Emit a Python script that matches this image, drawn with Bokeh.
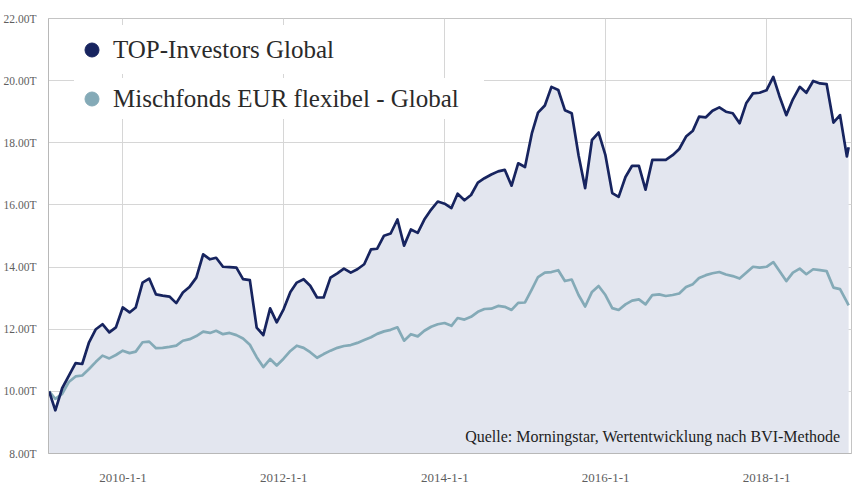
import pandas as pd
from bokeh.plotting import figure
from bokeh.models import Range1d, FixedTicker, Legend, LegendItem, Label, ColumnDataSource
from bokeh.embed import file_html
from bokeh.resources import INLINE

# ---- data ----
SERIES_TOP = "TOP-Investors Global"
SERIES_MIX = "Mischfonds EUR flexibel - Global"

top_values = [
    10.00, 9.39, 10.10, 10.50, 10.91, 10.88, 11.58, 12.00, 12.16, 11.90,
    12.06, 12.70, 12.54, 12.70, 13.50, 13.63, 13.12, 13.08, 13.05, 12.84,
    13.18, 13.37, 13.66, 14.41, 14.25, 14.30, 14.01, 14.00, 13.98, 13.61,
    13.58, 12.05, 11.81, 12.67, 12.22, 12.64, 13.20, 13.50, 13.61, 13.40,
    13.02, 13.02, 13.66, 13.80, 13.95, 13.82, 13.93, 14.09, 14.57, 14.59,
    15.01, 15.08, 15.53, 14.69, 15.21, 15.10, 15.53, 15.85, 16.11, 16.04,
    15.90, 16.36, 16.15, 16.32, 16.72, 16.86, 16.98, 17.08, 17.13, 16.62,
    17.34, 17.22, 18.30, 18.97, 19.20, 19.80, 19.70, 19.05, 18.95, 17.60,
    16.54, 18.09, 18.33, 17.60, 16.38, 16.26, 16.90, 17.26, 17.26, 16.49,
    17.45, 17.45, 17.45, 17.60, 17.80, 18.20, 18.39, 18.84, 18.82, 19.03,
    19.14, 19.00, 18.95, 18.63, 19.27, 19.59, 19.61, 19.69, 20.12, 19.50,
    18.89, 19.40, 19.80, 19.61, 19.99, 19.91, 19.89, 18.65, 18.89, 17.56,
    17.86,
]

mix_values = [
    10.00, 9.76, 9.92, 10.30, 10.48, 10.51, 10.72, 10.95, 11.15, 11.06,
    11.17, 11.31, 11.23, 11.28, 11.58, 11.60, 11.39, 11.40, 11.43, 11.47,
    11.63, 11.68, 11.78, 11.92, 11.88, 11.95, 11.84, 11.88, 11.81, 11.70,
    11.50, 11.10, 10.78, 11.04, 10.83, 11.05, 11.30, 11.47, 11.40, 11.26,
    11.08, 11.20, 11.31, 11.40, 11.46, 11.49, 11.56, 11.65, 11.74, 11.85,
    11.93, 11.98, 12.06, 11.63, 11.84, 11.77, 11.95, 12.08, 12.16, 12.20,
    12.11, 12.36, 12.31, 12.40, 12.56, 12.65, 12.66, 12.75, 12.72, 12.62,
    12.85, 12.86, 13.28, 13.68, 13.82, 13.84, 13.90, 13.55, 13.60, 13.10,
    12.73, 13.20, 13.39, 13.10, 12.68, 12.62, 12.80, 12.92, 12.96, 12.80,
    13.10, 13.12, 13.07, 13.10, 13.15, 13.36, 13.45, 13.65, 13.74, 13.80,
    13.84, 13.76, 13.71, 13.63, 13.82, 14.01, 13.98, 14.01, 14.16, 13.87,
    13.55, 13.82, 13.95, 13.77, 13.93, 13.90, 13.87, 13.34, 13.29, 12.88,
    12.77,
]

month_ends = list(pd.date_range(start="2009-01-31", periods=120, freq=pd.offsets.MonthEnd()))
dates = month_ends + [pd.Timestamp("2019-01-08")]

y_ticks = [8, 10, 12, 14, 16, 18, 20, 22]
y_tick_labels = ["8.00T", "10.00T", "12.00T", "14.00T", "16.00T", "18.00T", "20.00T", "22.00T"]
x_tick_dates = ["2010-01-01", "2012-01-01", "2014-01-01", "2016-01-01", "2018-01-01"]
x_tick_labels = ["2010-1-1", "2012-1-1", "2014-1-1", "2016-1-1", "2018-1-1"]
source_note = "Quelle: Morningstar, Wertentwicklung nach BVI-Methode"

# ---- styling ----
DARK = "#17245f"
LIGHT = "#84aab7"
FILL = "#e3e6ef"
GRID = "#d6d6d6"
AXIS = "#b8b8b8"
SERIF = "Liberation Serif"

src = ColumnDataSource(dict(date=dates, top=top_values, mix=mix_values,
                            base=[y_ticks[0]] * len(dates)))

p = figure(width=854, height=484, x_axis_type="datetime",
           x_range=Range1d(pd.Timestamp("2009-01-28"), pd.Timestamp("2019-01-21")),
           y_range=Range1d(y_ticks[0], y_ticks[-1]),
           output_backend="svg", toolbar_location=None,
           min_border_left=48, min_border_right=3, min_border_top=18, min_border_bottom=29)

p.background_fill_color = "white"
p.border_fill_color = "white"
p.outline_line_color = "#c4c4c4"

p.varea(x="date", y1="base", y2="top", source=src, fill_color=FILL, fill_alpha=1.0)
p.line(x="date", y="mix", source=src, line_color=LIGHT, line_width=2.7, line_join="round")
p.line(x="date", y="top", source=src, line_color=DARK, line_width=2.7, line_join="round")

# axes
x_ticks_ms = [pd.Timestamp(d).value / 1e6 for d in x_tick_dates]
p.xaxis.ticker = FixedTicker(ticks=x_ticks_ms)
p.xaxis.major_label_overrides = {t: l for t, l in zip(x_ticks_ms, x_tick_labels)}
p.yaxis.ticker = FixedTicker(ticks=y_ticks)
p.yaxis.major_label_overrides = {t: l for t, l in zip(y_ticks, y_tick_labels)}

for ax in (p.xaxis[0], p.yaxis[0]):
    ax.axis_line_color = AXIS
    ax.major_tick_line_color = None
    ax.minor_tick_line_color = None
    ax.major_label_text_font = SERIF
    ax.major_label_text_color = "#5e5e5e"
p.xaxis.major_label_text_font_size = "13px"
p.xaxis.major_label_standoff = 14
p.yaxis.major_label_text_font_size = "11.5px"
p.yaxis.major_label_standoff = 6

p.xgrid.grid_line_color = GRID
p.ygrid.grid_line_color = GRID
p.xgrid.ticker = p.xaxis.ticker
p.ygrid.ticker = p.yaxis.ticker

# legend glyph renderers (one NaN point each: nothing drawn in the plot)
r_top = p.scatter(x=[float("nan")], y=[float("nan")], size=15, fill_color=DARK, line_color=DARK)
r_mix = p.scatter(x=[float("nan")], y=[float("nan")], size=15, fill_color=LIGHT, line_color=LIGHT)

common = dict(border_line_color=None, background_fill_color="white", background_fill_alpha=1.0,
              label_text_font=SERIF, label_text_font_size="25px", label_text_color="#2a2a2a",
              glyph_width=35, label_height=27, spacing=0, margin=0, padding=4, label_standoff=4)

leg1 = Legend(items=[LegendItem(label=SERIES_TOP, renderers=[r_top])],
              location=(26, 379), glyph_height=49, label_width=330, **common)
leg2 = Legend(items=[LegendItem(label=SERIES_MIX, renderers=[r_mix])],
              location=(26, 334), glyph_height=41, label_width=371, **common)
p.add_layout(leg1)
p.add_layout(leg2)

note = Label(x=792, y=17, x_units="screen", y_units="screen", text=source_note,
             text_align="right", text_baseline="alphabetic",
             text_font=SERIF, text_font_size="16px", text_color="#1e1e1e")
p.add_layout(note)

open("out.html", "w").write(file_html(p, INLINE))
